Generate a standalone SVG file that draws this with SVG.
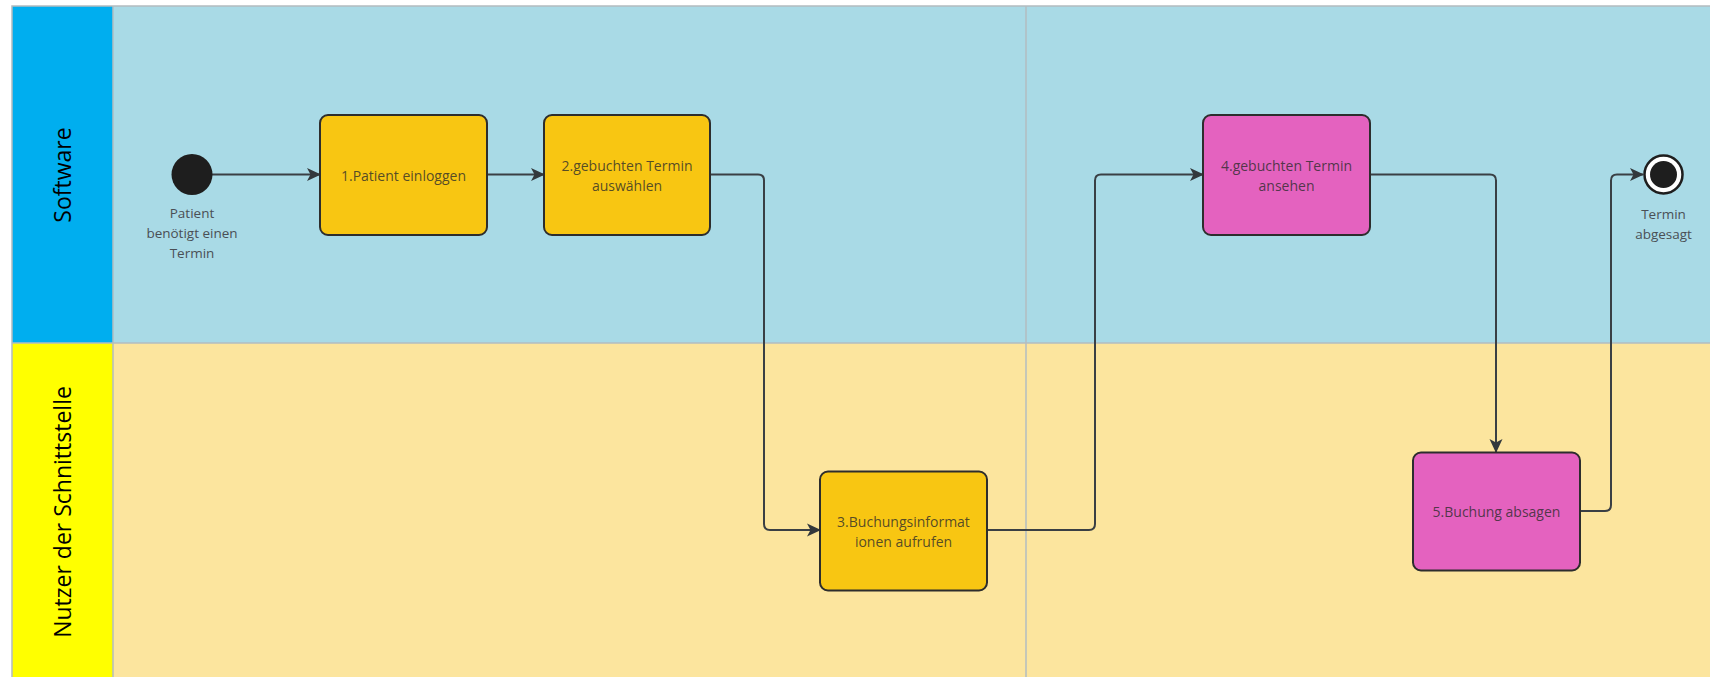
<svg xmlns="http://www.w3.org/2000/svg" width="1710" height="677" viewBox="0 0 1710 677">
  <style>
    .lane-title { font-family: "Open Sans", "Noto Sans", sans-serif; font-size: 23px; fill: #000; }
    .box-text { font-family: "Open Sans", "Noto Sans", sans-serif; font-size: 14px; fill: #2b2b2b; fill-opacity: 0.8; text-anchor: middle; dominant-baseline: central; }
    .ev-text { font-family: "Open Sans", "Noto Sans", sans-serif; font-size: 13.5px; fill: #4a4f55; text-anchor: middle; dominant-baseline: central; }
    .act-y { fill: #f8c612; stroke: #2d2d2d; stroke-width: 2; }
    .act-p { fill: #e462bf; stroke: #2d2d2d; stroke-width: 2; }
    .conn { fill: none; stroke: #3a3f44; stroke-width: 2; marker-end: url(#arr); }
    .grid { stroke: #b3bcc0; stroke-width: 1.5; fill: none; }
  </style>
  <defs>
    <marker id="arr" viewBox="0 0 14 14" refX="13" refY="7" markerWidth="14" markerHeight="14" markerUnits="userSpaceOnUse" orient="auto">
      <path d="M0,0.5 L14,7 L0,13.5 L3.5,7 Z" fill="#33383c"/>
    </marker>
  </defs>

  <rect x="0" y="0" width="1710" height="677" fill="#ffffff"/>

  <g id="lanes">
    <rect x="113" y="6" width="1597" height="337" fill="#a9dae6"/>
    <rect x="113" y="343" width="1597" height="334" fill="#fce59e"/>
    <rect x="12" y="6" width="101" height="337" fill="#00aeef"/>
    <rect x="12" y="343" width="101" height="334" fill="#ffff00"/>
    <path class="grid" d="M12,677 V6 H1710"/>
    <path class="grid" d="M12,343 H1710"/>
    <path class="grid" d="M113,6 V677"/>
    <path class="grid" d="M1026,6 V677"/>
    <text class="lane-title" transform="translate(71,175) rotate(-90)" text-anchor="middle">Software</text>
    <text class="lane-title" transform="translate(71,512) rotate(-90)" text-anchor="middle">Nutzer der Schnittstelle</text>
  </g>

  <g id="connectors">
    <path class="conn" d="M212,174.5 H320"/>
    <path class="conn" d="M487,174.5 H544"/>
    <path class="conn" d="M710,174.5 H758 Q764,174.5 764,180.5 V524 Q764,530 770,530 H820"/>
    <path class="conn" d="M987,530 H1089 Q1095,530 1095,524 V180.5 Q1095,174.5 1101,174.5 H1203"/>
    <path class="conn" d="M1370,174.5 H1490 Q1496,174.5 1496,180.5 V452"/>
    <path class="conn" d="M1580,511 H1605 Q1611,511 1611,505 V180.5 Q1611,174.5 1617,174.5 H1643"/>
  </g>

  <g id="start">
    <circle cx="192" cy="174.5" r="20.5" fill="#1e1e1e"/>
    <text class="ev-text" x="192" y="213">Patient</text>
    <text class="ev-text" x="192" y="233">benötigt einen</text>
    <text class="ev-text" x="192" y="253">Termin</text>
  </g>

  <g id="n1">
    <rect class="act-y" x="320" y="115" width="167" height="120" rx="8"/>
    <text class="box-text" x="403.5" y="175">1.Patient einloggen</text>
  </g>

  <g id="n2">
    <rect class="act-y" x="544" y="115" width="166" height="120" rx="8"/>
    <text class="box-text" x="627" y="165.5">2.gebuchten Termin</text>
    <text class="box-text" x="627" y="185">auswählen</text>
  </g>

  <g id="n3">
    <rect class="act-y" x="820" y="471.5" width="167" height="119" rx="8"/>
    <text class="box-text" x="903.5" y="521.5">3.Buchungsinformat</text>
    <text class="box-text" x="903.5" y="541">ionen aufrufen</text>
  </g>

  <g id="n4">
    <rect class="act-p" x="1203" y="115" width="167" height="120" rx="8"/>
    <text class="box-text" x="1286.5" y="165.5">4.gebuchten Termin</text>
    <text class="box-text" x="1286.5" y="185">ansehen</text>
  </g>

  <g id="n5">
    <rect class="act-p" x="1413" y="452.5" width="167" height="118" rx="8"/>
    <text class="box-text" x="1496.5" y="511.5">5.Buchung absagen</text>
  </g>

  <g id="end">
    <circle cx="1663.5" cy="174.5" r="19" fill="#ffffff" stroke="#1e1e1e" stroke-width="2.5"/>
    <circle cx="1663.5" cy="174.5" r="13.5" fill="#1e1e1e"/>
    <text class="ev-text" x="1663.5" y="214">Termin</text>
    <text class="ev-text" x="1663.5" y="234">abgesagt</text>
  </g>
</svg>
